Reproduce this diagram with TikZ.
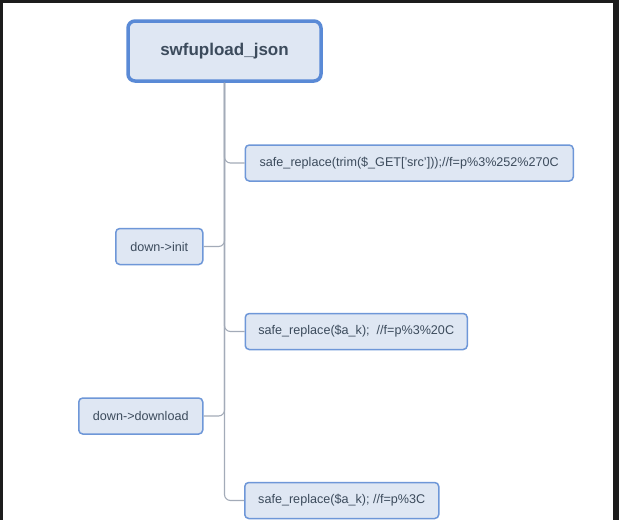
\documentclass[tikz,border=0pt]{standalone}
\usepackage{fontspec}
\setmainfont{Liberation Sans}
\usetikzlibrary{positioning}
\definecolor{boxfill}{HTML}{DFE7F3}
\definecolor{boxline}{HTML}{6E97D8}
\definecolor{titleline}{HTML}{5A8AD6}
\definecolor{txt}{HTML}{3C4B5C}
\definecolor{wire}{HTML}{A3ABB8}
\definecolor{frame}{HTML}{1C1C1C}
\tikzset{
    topic/.style={
        draw=titleline,
        line width=3.5pt,
        fill=boxfill,
        rounded corners=7pt,
        minimum width=193pt,
        minimum height=60pt,
        text=txt,
        font=\fontsize{17}{20}\selectfont\bfseries
    },
    leaf/.style={
        draw=boxline,
        line width=1.5pt,
        fill=boxfill,
        rounded corners=4pt,
        minimum height=36pt,
        inner xsep=0pt,
        text=txt,
        font=\fontsize{12.6}{15}\selectfont
    },
    branch/.style={
        draw=wire,
        line width=1.1pt,
        rounded corners=6pt
    }
}

\begin{document}
\begin{tikzpicture}[x=1pt, y=-1pt]
                \useasboundingbox (0,0) rectangle (619,520);
                \fill[white] (0,0) rectangle (619,520);
                \fill[frame] (0,0) rectangle (619,3);
                \fill[frame] (0,0) rectangle (3,520);
                \fill[frame] (613,0) rectangle (619,520);

                \node[topic] (sj) at (224.5,51) {swfupload\_json};

                \node[leaf, anchor=west, minimum width=328pt] (src) at (244.5,163) {safe\_replace(trim(\$\_GET['src']));//f=p\%3\%252\%270C};
                \node[leaf, anchor=east, minimum width=87pt] (init) at (203.5,246.5) {down->init};
                \node[leaf, anchor=west, minimum width=222pt] (ak) at (244.5,331.5) {safe\_replace(\$a\_k);\ \ //f=p\%3\%20C};
                \node[leaf, anchor=east, minimum width=124pt] (dl) at (203.5,416) {down->download};
                \node[leaf, anchor=west, minimum width=194pt] (akk) at (244,500.5) {safe\_replace(\$a\_k); //f=p\%3C};

                \draw[branch] (sj.south) |- (src.west);
                \draw[branch] (sj.south) |- (init.east);
                \draw[branch] (sj.south) |- (ak.west);
                \draw[branch] (sj.south) |- (dl.east);
                \draw[branch] (sj.south) |- (akk.west);
            \end{tikzpicture}
\end{document}
